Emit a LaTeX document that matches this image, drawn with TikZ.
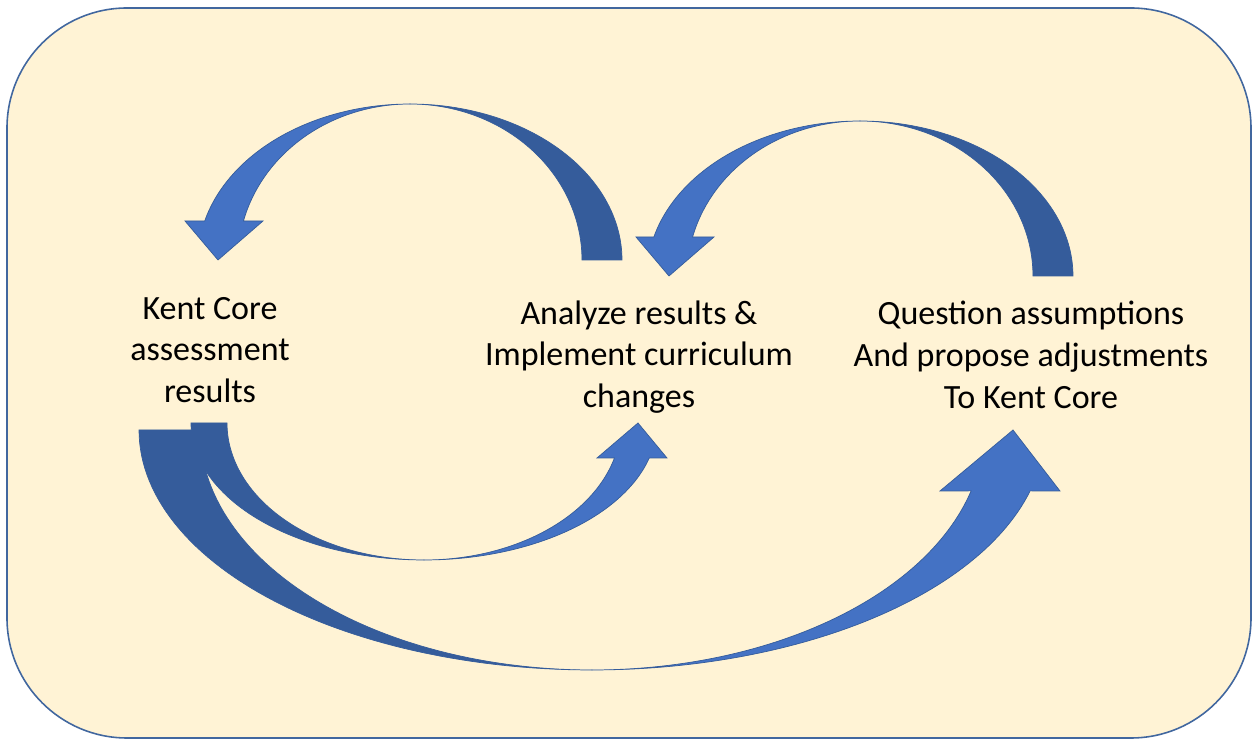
\documentclass[tikz,border=0pt]{standalone}
\usepackage{fontspec}
\setmainfont{Carlito}
\definecolor{panelfill}{HTML}{FFF3D5}
\definecolor{panelline}{HTML}{41679F}
\definecolor{arrowlight}{HTML}{4472C4}
\definecolor{arrowdark}{HTML}{355C9B}
\tikzstyle{panel} = [draw=panelline, line width=0.45pt, fill=panelfill, rounded corners=1.2cm]
\tikzstyle{stage} = [align=center, text=black, 
font=\fontsize{9.67}{11.9}\selectfont]
\tikzstyle{backpart} = [fill=arrowdark, draw=arrowdark, line width=0.2pt]
\tikzstyle{frontpart} = [fill=arrowlight, draw=arrowdark, line width=0.2pt]

\begin{document}
\begin{tikzpicture}[x=0.01cm, y=-0.01cm, samples=60]

\fill[white] (0,0) rectangle (1253,740);
\useasboundingbox (0,0) rectangle (1253,740);
\draw[panel] (7,8) rectangle (1251,738);

\node (kent) [stage] at (210,350) {Kent Core\\assessment\\results};
\node (analyze) [stage] at (639,357) {Analyze results \&\\Implement curriculum\\changes};
\node (question) [stage] at (1031,355) {Question assumptions\\And propose adjustments\\To Kent Core};

% analyze -> kent (over the top)
\draw[backpart] plot[domain=0:90] ({410+212*cos(\x)},{260-156*sin(\x)})
  -- plot[domain=90:0] ({410+172*cos(\x)},{260-156*sin(\x)}) -- cycle;
\draw[frontpart] plot[domain=90:165.5] ({410+212*cos(\x)},{260-156*sin(\x)})
  -- (185,221) -- (218,260) -- (263,221)
  -- plot[domain=165.5:90] ({410+172*cos(\x)},{260-156*sin(\x)}) -- cycle;

% question -> analyze (over the top)
\draw[backpart] plot[domain=0:90] ({860+213*cos(\x)},{276-155*sin(\x)})
  -- plot[domain=90:0] ({860+173*cos(\x)},{276-155*sin(\x)}) -- cycle;
\draw[frontpart] plot[domain=90:165.4] ({860+213*cos(\x)},{276-155*sin(\x)})
  -- (636,237) -- (669,276) -- (714,237)
  -- plot[domain=165.4:90] ({860+173*cos(\x)},{276-155*sin(\x)}) -- cycle;

% kent -> question (long way underneath)
\draw[backpart] plot[domain=180:90] ({592+453*cos(\x)},{430+240*sin(\x)})
  -- plot[domain=90:180] ({592+392*cos(\x)},{430+240*sin(\x)}) -- cycle;
\draw[frontpart] plot[domain=90:14.7] ({592+453*cos(\x)},{430+240*sin(\x)})
  -- (1060,491) -- (1013,430) -- (940,491)
  -- plot[domain=14.7:90] ({592+392*cos(\x)},{430+240*sin(\x)}) -- cycle;

% kent -> analyze (underneath)
\draw[backpart] plot[domain=180:90] ({424+233*cos(\x)},{423+137*sin(\x)})
  -- plot[domain=90:180] ({424+197*cos(\x)},{423+137*sin(\x)}) -- cycle;
\draw[frontpart] plot[domain=90:14.8] ({424+233*cos(\x)},{423+137*sin(\x)})
  -- (667,458) -- (638,423) -- (597,458)
  -- plot[domain=14.8:90] ({424+197*cos(\x)},{423+137*sin(\x)}) -- cycle;

\end{tikzpicture}
\end{document}
